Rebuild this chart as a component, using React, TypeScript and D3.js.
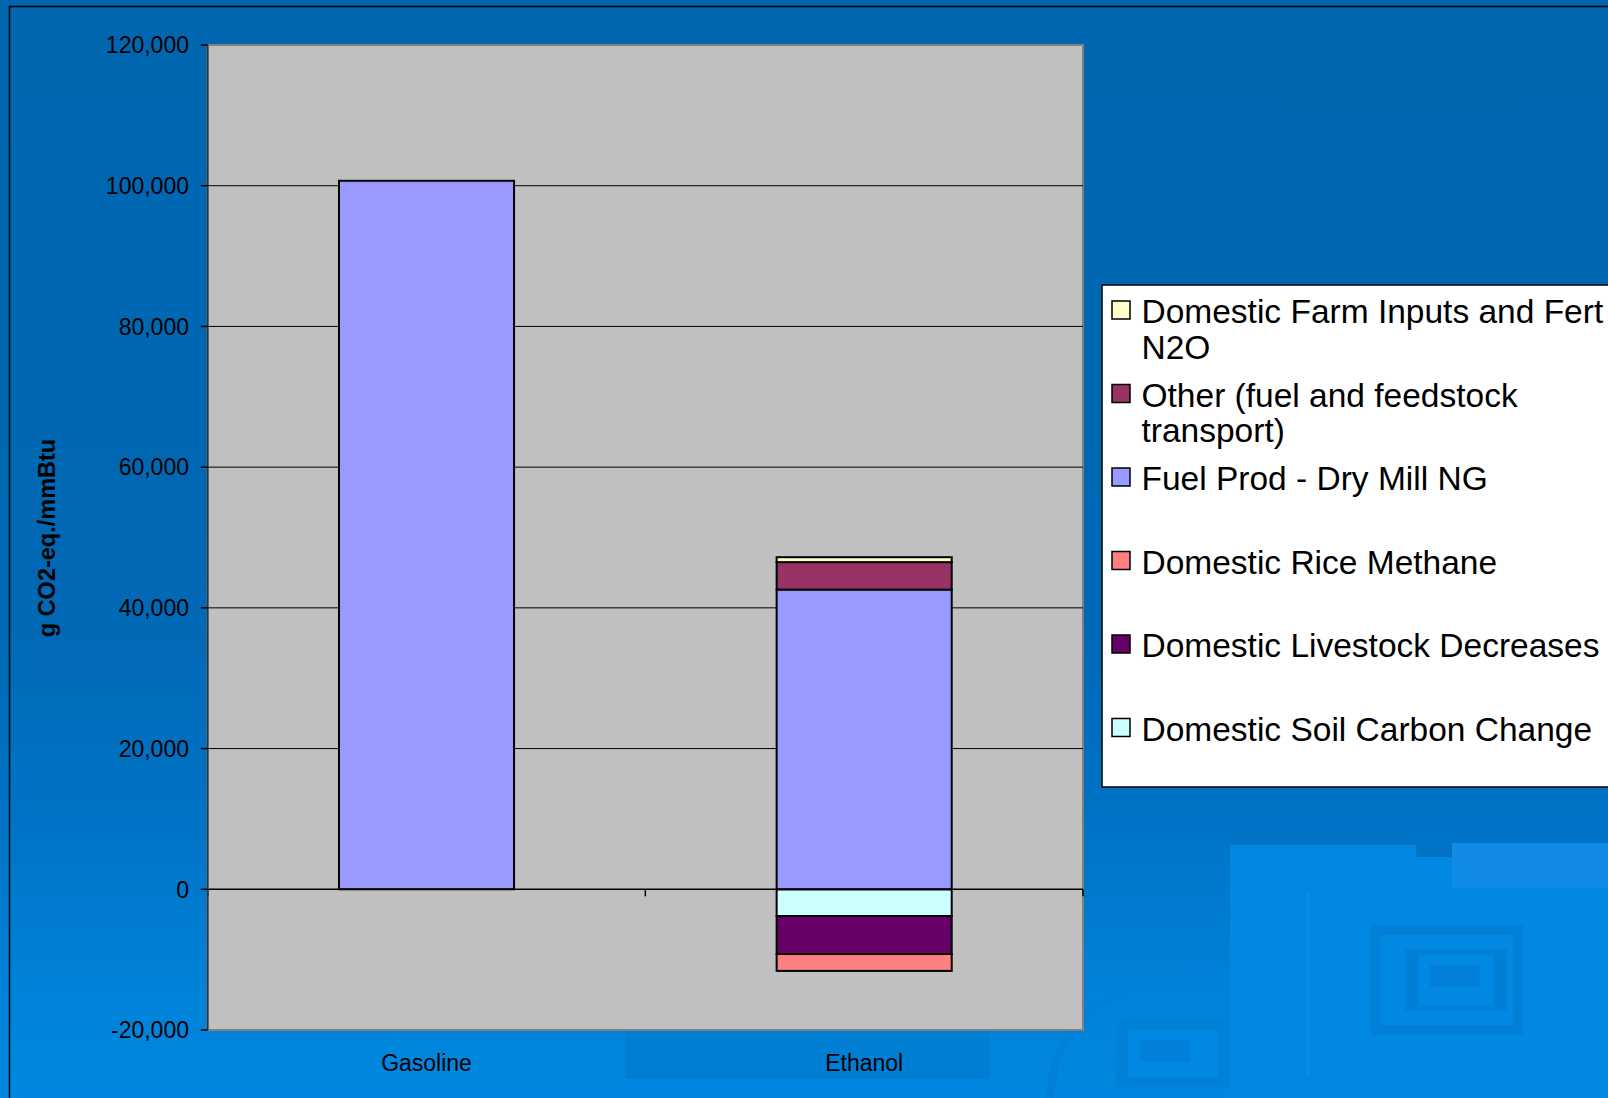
import React from "react";
import * as d3 from "d3";

const categories = ["Gasoline", "Ethanol"];
const seriesKeys = ["soil", "livestock", "rice", "fuel", "other", "farm"];
const soilCarbon = [0, -3800];
const livestock = [0, -5400];
const riceMethane = [0, -2400];
const fuelProd = [100700, 42600];
const otherTransport = [0, 3900];
const farmInputs = [0, 700];
const seriesColors = ["#CCFFFF", "#660066", "#FF8080", "#9999FF", "#993366", "#FFFFCC"];
const legendLines = [
  ["Domestic Soil Carbon Change"],
  ["Domestic Livestock Decreases"],
  ["Domestic Rice Methane"],
  ["Fuel Prod - Dry Mill NG"],
  ["Other (fuel and feedstock", "transport)"],
  ["Domestic Farm Inputs and Fert", "N2O"],
];
const yTicks = [-20000, 0, 20000, 40000, 60000, 80000, 100000, 120000];
const yTitle = "g CO2-eq./mmBtu";

const W = 1608;
const H = 1098;
const plot = { left: 207.7, right: 1083, top: 45, bottom: 1030 };
const FONT = "'Liberation Sans', Arial, Helvetica, sans-serif";

export default function App() {
  const rows = categories.map((c, i) => ({
    cat: c,
    soil: soilCarbon[i],
    livestock: livestock[i],
    rice: riceMethane[i],
    fuel: fuelProd[i],
    other: otherTransport[i],
    farm: farmInputs[i],
  }));
  const stacked = d3
    .stack()
    .keys(seriesKeys)
    .order(d3.stackOrderNone)
    .offset(d3.stackOffsetDiverging)(rows as any);

  const y = d3.scaleLinear().domain([-20000, 120000]).range([plot.bottom, plot.top]);
  const x = d3
    .scaleBand()
    .domain(categories)
    .range([plot.left, plot.right])
    .paddingInner(0.6)
    .paddingOuter(0.3);
  const fmt0 = d3.format(",");
  const fmt = (v: number) => fmt0(v).replace("\u2212", "-");
  const step = x.step();
  const catTicks = d3.range(categories.length + 1).map((i) => plot.left + i * step);

  const legendX = 1102;
  const legendTop = 285;
  const legendBottom = 787;
  const firstBaseline = 323;
  const entryStep = 83.5;
  const lineStep = 35.5;
  const legendOrder = seriesKeys.map((_, i) => i).reverse();

  return (
    <svg
      width={W}
      height={H}
      style={{ position: "absolute", left: 0, top: 0 }}
      fontFamily={FONT}
    >
      <defs>
        <linearGradient id="bg" x1="0" y1="0" x2="0" y2="1">
          <stop offset="0" stopColor="#0066B0" />
          <stop offset="0.55" stopColor="#0068B4" />
          <stop offset="0.75" stopColor="#0073C6" />
          <stop offset="0.9" stopColor="#0082D8" />
          <stop offset="1" stopColor="#0088E0" />
        </linearGradient>
      </defs>
      <rect x={0} y={0} width={W} height={H} fill="url(#bg)" />
      {/* decorative background shapes */}
      <g>
        <rect x={1230} y={845} width={378} height={253} fill="#0088E2" />
        <rect x={1416} y={845} width={36} height={12} fill="#0073C4" />
        <rect x={1452} y={843} width={156} height={45} fill="#108CE6" />
        <rect x={1306} y={893} width={4} height={182} fill="#0A8CE6" />
        <rect x={1370} y={925} width={153} height={110} fill="#0080D6" />
        <rect x={1380} y={935} width={133} height={90} fill="#0088E2" />
        <rect x={1405} y={949} width={102} height={62} fill="#007FD6" />
        <rect x={1418} y={955} width={76} height={50} fill="#0088E2" />
        <rect x={1430} y={965} width={50} height={22} fill="#0080D8" />
        <rect x={1116} y={1020} width={114} height={67} fill="#0080D6" />
        <rect x={1128} y={1030} width={90} height={47} fill="#0088E2" />
        <rect x={1140} y={1040} width={50} height={22} fill="#0080D8" />
        <rect x={625} y={1031} width={365} height={48} fill="#007ED4" />
        <path d="M1050,1098 C1055,1010 1120,975 1230,975" fill="none" stroke="#0080D8" strokeWidth={8} />
      </g>
      <rect x={9.5} y={6.5} width={1700} height={1200} fill="none" stroke="#000" strokeWidth={1.5} />

      {/* plot area */}
      <rect
        x={plot.left}
        y={plot.top}
        width={plot.right - plot.left}
        height={plot.bottom - plot.top}
        fill="#C0C0C0"
        stroke="#808080"
        strokeWidth={2}
      />
      {yTicks
        .filter((t) => t !== -20000 && t !== 120000 && t !== 0)
        .map((t) => (
          <line
            key={t}
            x1={plot.left}
            x2={plot.right}
            y1={y(t)}
            y2={y(t)}
            stroke="#000"
            strokeWidth={1}
          />
        ))}

      {/* bars */}
      {stacked.map((s, si) =>
        s.map((d: any, ci) => {
          const v0 = d[0];
          const v1 = d[1];
          if (v0 === v1) return null;
          const top = y(Math.max(v0, v1));
          const bot = y(Math.min(v0, v1));
          return (
            <rect
              key={`${si}-${ci}`}
              x={x(categories[ci])}
              y={top}
              width={x.bandwidth()}
              height={bot - top}
              fill={seriesColors[si]}
              stroke="#000"
              strokeWidth={2}
            />
          );
        })
      )}

      {/* zero axis & category ticks */}
      <line x1={plot.left} x2={plot.right} y1={y(0)} y2={y(0)} stroke="#000" strokeWidth={1.5} />
      {catTicks.map((cx, i) => (
        <line key={i} x1={cx} x2={cx} y1={y(0)} y2={y(0) + 7} stroke="#000" strokeWidth={1.5} />
      ))}

      {/* y axis */}
      <line x1={plot.left} x2={plot.left} y1={plot.top} y2={plot.bottom} stroke="#333" strokeWidth={1.5} />
      {yTicks.map((t) => (
        <g key={t}>
          <line x1={plot.left - 7} x2={plot.left} y1={y(t)} y2={y(t)} stroke="#000" strokeWidth={1.5} />
          <text
            x={189}
            y={y(t)}
            dy="0.36em"
            textAnchor="end"
            fontSize={23}
            fill="#000"
          >
            {fmt(t)}
          </text>
        </g>
      ))}

      {/* category labels */}
      {categories.map((c) => (
        <text
          key={c}
          x={(x(c) as number) + x.bandwidth() / 2}
          y={1071}
          textAnchor="middle"
          fontSize={23}
          fill="#000"
        >
          {c}
        </text>
      ))}

      {/* y title */}
      <text
        transform={`translate(55,538) rotate(-90)`}
        textAnchor="middle"
        fontSize={23.5}
        fontWeight="bold"
        fill="#000"
      >
        {yTitle}
      </text>

      {/* legend */}
      <rect
        x={legendX}
        y={legendTop}
        width={W - legendX + 20}
        height={legendBottom - legendTop}
        fill="#FFFFFF"
        stroke="#000"
        strokeWidth={1.5}
      />
      {legendOrder.map((si, k) => {
        const base = firstBaseline + k * entryStep;
        return (
          <g key={si}>
            <rect
              x={1112}
              y={base - 22}
              width={18}
              height={18}
              fill={seriesColors[si]}
              stroke="#000"
              strokeWidth={1.5}
            />
            {legendLines[si].map((ln, li) => (
              <text key={li} x={1141.5} y={base + li * lineStep} fontSize={33.5} fill="#000">
                {ln}
              </text>
            ))}
          </g>
        );
      })}
    </svg>
  );
}
